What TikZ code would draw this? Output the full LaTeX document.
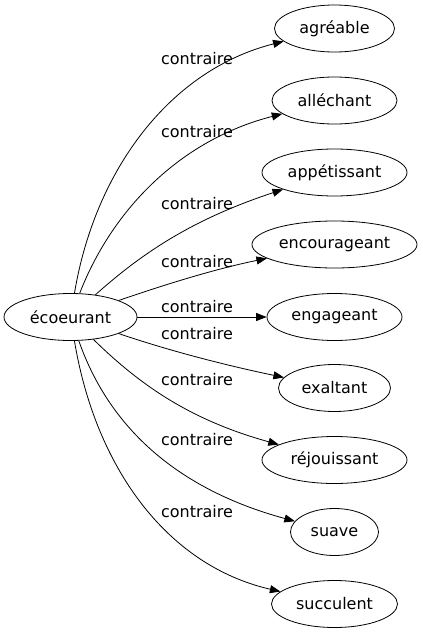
\documentclass[tikz,border=0pt]{standalone}
\usepackage{fontspec}
\setmainfont{DejaVu Sans}
\usetikzlibrary{arrows.meta,shapes.geometric}
\tikzset{
  word/.style={draw, ellipse, inner sep=0pt, minimum height=47pt, line width=0.8pt,
    font=\fontsize{16}{19}\selectfont},
  rel/.style={inner sep=0pt, font=\fontsize{16}{19}\selectfont},
  link/.style={line width=0.8pt, -{Triangle[length=10.5pt,width=8pt]}}
}
\begin{document}
\begin{tikzpicture}[x=1pt,y=-1pt]
\useasboundingbox (0,0) rectangle (423,635);
\node[word, minimum width=133pt] (src) at (70.5,317) {écoeurant};
\node[word, minimum width=120pt] (t1) at (334.5,28.5) {agréable};
\node[word, minimum width=125pt] (t2) at (334.5,100.5) {alléchant};
\node[word, minimum width=145pt] (t3) at (334.5,172.5) {appétissant};
\node[word, minimum width=165pt] (t4) at (334.5,244.5) {encourageant};
\node[word, minimum width=135pt] (t5) at (334.5,317) {engageant};
\node[word, minimum width=112pt] (t6) at (334.5,388) {exaltant};
\node[word, minimum width=145pt] (t7) at (334.5,460) {réjouissant};
\node[word, minimum width=88pt] (t8) at (334.5,532) {suave};
\node[word, minimum width=126pt] (t9) at (334.5,604) {succulent};

\draw[link] (src) .. controls (95,170) and (170,70) .. (t1);
\draw[link] (src) .. controls (112,210) and (180,140) .. (t2);
\draw[link] (src) .. controls (140,255) and (190,220) .. (t3);
\draw[link] (src) .. controls (155,288) and (210,270) .. (t4);
\draw[link] (src) -- (t5);
\draw[link] (src) .. controls (155,346) and (210,362) .. (t6);
\draw[link] (src) .. controls (140,385) and (190,420) .. (t7);
\draw[link] (src) .. controls (110,430) and (180,490) .. (t8);
\draw[link] (src) .. controls (95,465) and (165,565) .. (t9);

\node[rel] (l1) at (197,58.5) {contraire};
\node[rel] (l2) at (197,131.5) {contraire};
\node[rel] (l3) at (197,203.5) {contraire};
\node[rel] (l4) at (197,261.5) {contraire};
\node[rel] (l5) at (197,306.5) {contraire};
\node[rel] (l6) at (197,333.5) {contraire};
\node[rel] (l7) at (197,380) {contraire};
\node[rel] (l8) at (197,440) {contraire};
\node[rel] (l9) at (197,511.5) {contraire};
\end{tikzpicture}
\end{document}
